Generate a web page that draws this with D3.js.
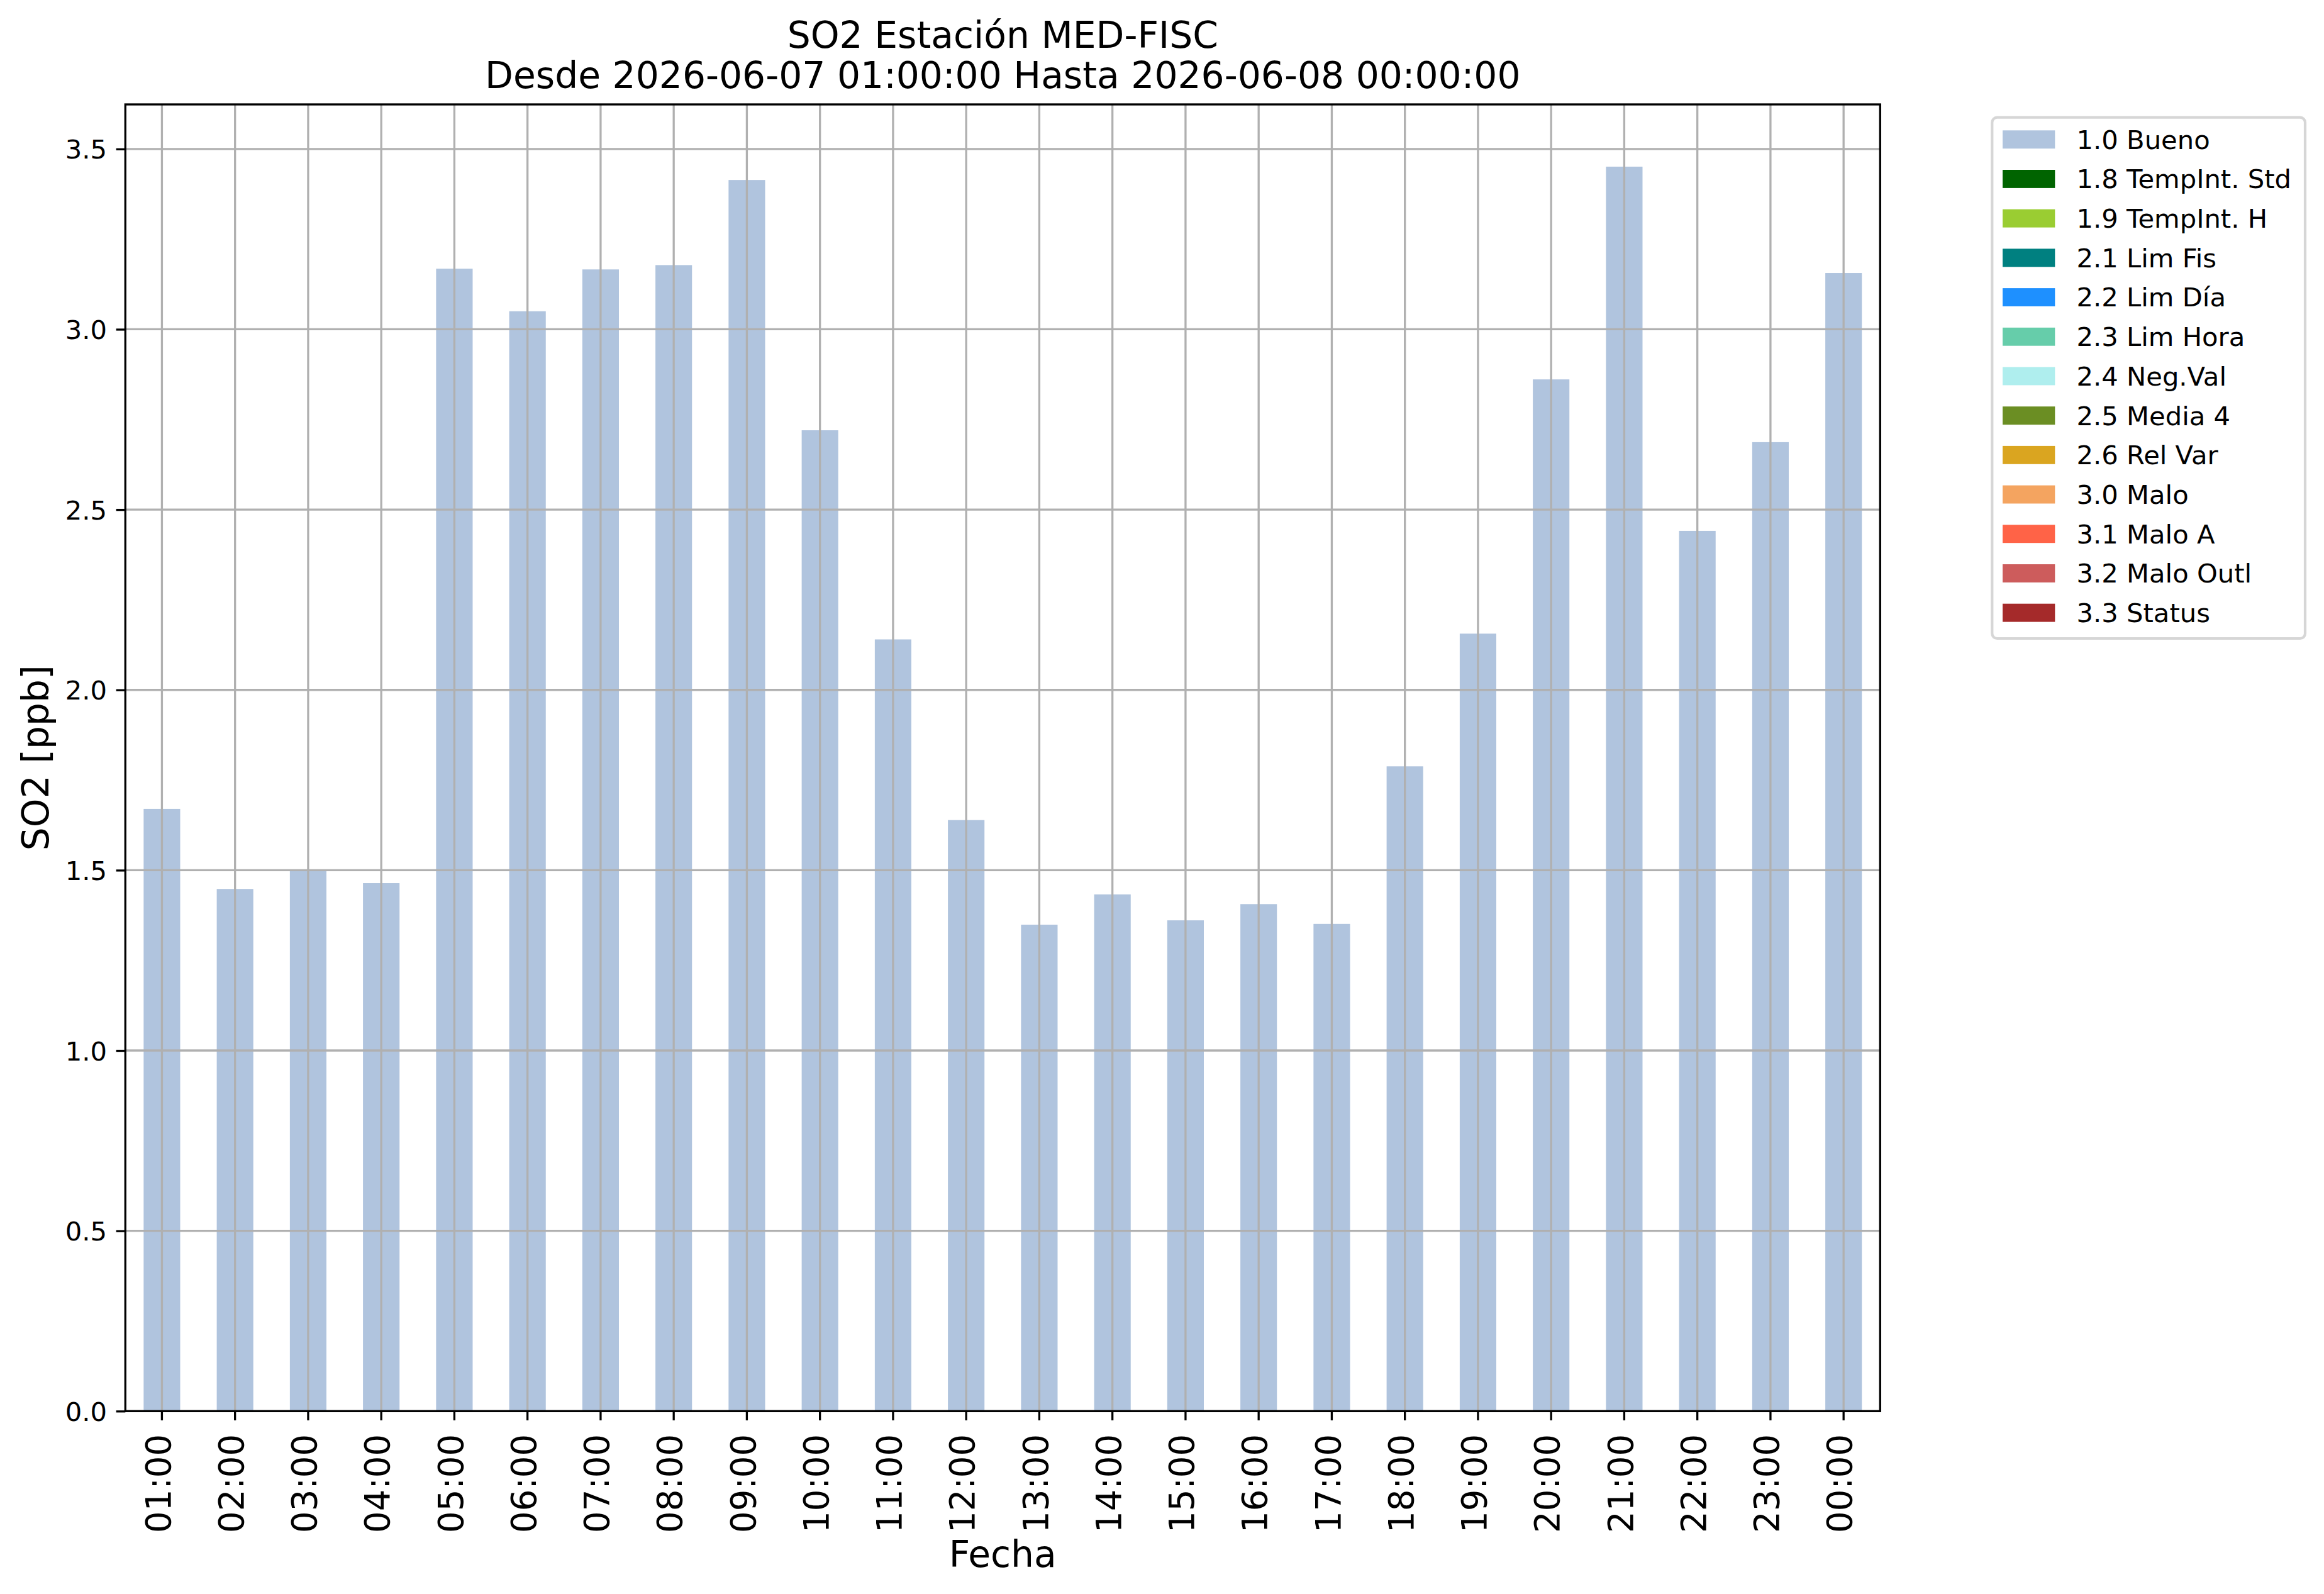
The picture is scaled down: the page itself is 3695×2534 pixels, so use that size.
<!DOCTYPE html>
<html lang="en">
<head>
    <meta charset="UTF-8">
    <title>SO2 MED-FISC</title>
    <style>
        body{
            margin:0;
            background:#fff;
        }
        text{
            font-family:"DejaVu Sans",sans-serif;
        }
    </style>
    <script src="https://cdn.jsdelivr.net/npm/d3@7"></script>
</head>
<body>
<div id ='container'>
</div>
</body>
<script>
    // data
    var hours = ['01:00','02:00','03:00','04:00','05:00','06:00','07:00','08:00','09:00','10:00','11:00','12:00',
        '13:00','14:00','15:00','16:00','17:00','18:00','19:00','20:00','21:00','22:00','23:00','00:00'];
    var so2Values = [1.670, 1.448, 1.498, 1.464, 3.168, 3.050, 3.166, 3.178, 3.414, 2.720, 2.140, 1.639,
        1.349, 1.433, 1.361, 1.406, 1.351, 1.788, 2.156, 2.861, 3.451, 2.441, 2.687, 3.156];
    var yTicks = [0, 0.5, 1.0, 1.5, 2.0, 2.5, 3.0, 3.5];
    var flagLabels = ['1.0 Bueno','1.8 TempInt. Std','1.9 TempInt. H','2.1 Lim Fis','2.2 Lim Día','2.3 Lim Hora',
        '2.4 Neg.Val','2.5 Media 4','2.6 Rel Var','3.0 Malo','3.1 Malo A','3.2 Malo Outl','3.3 Status'];
    var flagColors = ['#b0c4de','#006400','#9acd32','#008080','#1e90ff','#66cdaa',
        '#afeeee','#6b8e23','#daa520','#f4a460','#ff6347','#cd5c5c','#a52a2a'];
    var titleLines = ['SO2 Estación MED-FISC', 'Desde 2026-06-07 01:00:00 Hasta 2026-06-08 00:00:00'];

    var W = 3695, H = 2534,
        pL = 199.3, pR = 2989.3, pT = 166, pB = 2243.3,
        lw = 3.3, tickLen = 14.6;

    var svg = d3.select('#container').append('svg').attr('width', W).attr('height', H);
    svg.append('rect').attr('width', W).attr('height', H).attr('fill', '#fff');

    var x = d3.scaleBand().domain(hours).range([pL, pR]).paddingInner(0.5).paddingOuter(0.25),
        y = d3.scaleLinear().domain([0, d3.max(so2Values) * 1.05]).range([pB, pT]);

    // bars (only the "Bueno" flag is present)
    svg.append('g').selectAll('rect').data(so2Values).enter().append('rect')
        .attr('x', function (d, i) { return x(hours[i]); })
        .attr('y', function (d) { return y(d); })
        .attr('width', x.bandwidth())
        .attr('height', function (d) { return y(0) - y(d); })
        .attr('fill', flagColors[0]);

    // grid on top of bars, like matplotlib
    var grid = svg.append('g').attr('stroke', '#b0b0b0').attr('stroke-width', lw);
    grid.selectAll('line.v').data(hours).enter().append('line').attr('class', 'v')
        .attr('x1', function (d) { return x(d) + x.bandwidth() / 2; })
        .attr('x2', function (d) { return x(d) + x.bandwidth() / 2; })
        .attr('y1', pT).attr('y2', pB);
    grid.selectAll('line.h').data(yTicks).enter().append('line').attr('class', 'h')
        .attr('x1', pL).attr('x2', pR)
        .attr('y1', function (d) { return y(d); })
        .attr('y2', function (d) { return y(d); });

    // axes
    var yAxis = d3.axisLeft(y).tickValues(yTicks).tickFormat(d3.format('.1f')).tickSize(tickLen).tickPadding(tickLen),
        xAxis = d3.axisBottom(x).tickSize(tickLen).tickPadding(tickLen);

    var gy = svg.append('g').attr('transform', 'translate(' + pL + ',0)').call(yAxis);
    gy.select('.domain').remove();
    gy.selectAll('line').attr('stroke', '#000').attr('stroke-width', lw);
    gy.selectAll('text').attr('font-size', '41.7px').attr('font-family', 'DejaVu Sans')
        .attr('fill', '#000').attr('dy', '0.36em').attr('x', -tickLen - 14.6);

    var gx = svg.append('g').attr('transform', 'translate(0,' + pB + ')').call(xAxis);
    gx.select('.domain').remove();
    gx.selectAll('line').attr('stroke', '#000').attr('stroke-width', lw);
    gx.selectAll('text').attr('font-size', '54.5px').attr('font-family', 'DejaVu Sans').attr('fill', '#000')
        .attr('x', 0).attr('y', 0).attr('dy', '0.24em')
        .attr('text-anchor', 'end')
        .attr('transform', 'translate(0,' + (tickLen + 22) + ') rotate(-90)');

    // frame
    svg.append('rect').attr('x', pL).attr('y', pT)
        .attr('width', pR - pL).attr('height', pB - pT)
        .attr('fill', 'none').attr('stroke', '#000').attr('stroke-width', lw);

    // title and labels
    svg.selectAll('text.title').data(titleLines).enter().append('text').attr('class', 'title')
        .attr('x', (pL + pR) / 2)
        .attr('y', function (d, i) { return 76 + i * 64; })
        .attr('text-anchor', 'middle').attr('font-size', '58.3px')
        .text(function (d) { return d; });

    svg.append('text').attr('x', (pL + pR) / 2).attr('y', 2490.7)
        .attr('text-anchor', 'middle').attr('font-size', '58.3px').text('Fecha');

    svg.append('text').attr('transform', 'translate(76.7,' + ((pT + pB) / 2) + ') rotate(-90)')
        .attr('text-anchor', 'middle').attr('font-size', '58.3px').text('SO2 [ppb]');

    // legend
    var lg = svg.append('g');
    lg.append('rect').attr('x', 3167.3).attr('y', 186.7).attr('width', 497.7).attr('height', 828.3)
        .attr('rx', 8).attr('fill', '#fff').attr('stroke', '#d6d6d6').attr('stroke-width', 4.2);
    var rows = lg.selectAll('g.row').data(flagLabels).enter().append('g').attr('class', 'row')
        .attr('transform', function (d, i) { return 'translate(0,' + (i * 62.7) + ')'; });
    rows.append('rect').attr('x', 3184).attr('y', 207.3).attr('width', 83.3).attr('height', 28.9)
        .attr('fill', function (d, i) { return flagColors[i]; });
    rows.append('text').attr('x', 3301.5).attr('y', 236.7).attr('font-size', '41.7px')
        .text(function (d) { return d; });
</script>
</html>
